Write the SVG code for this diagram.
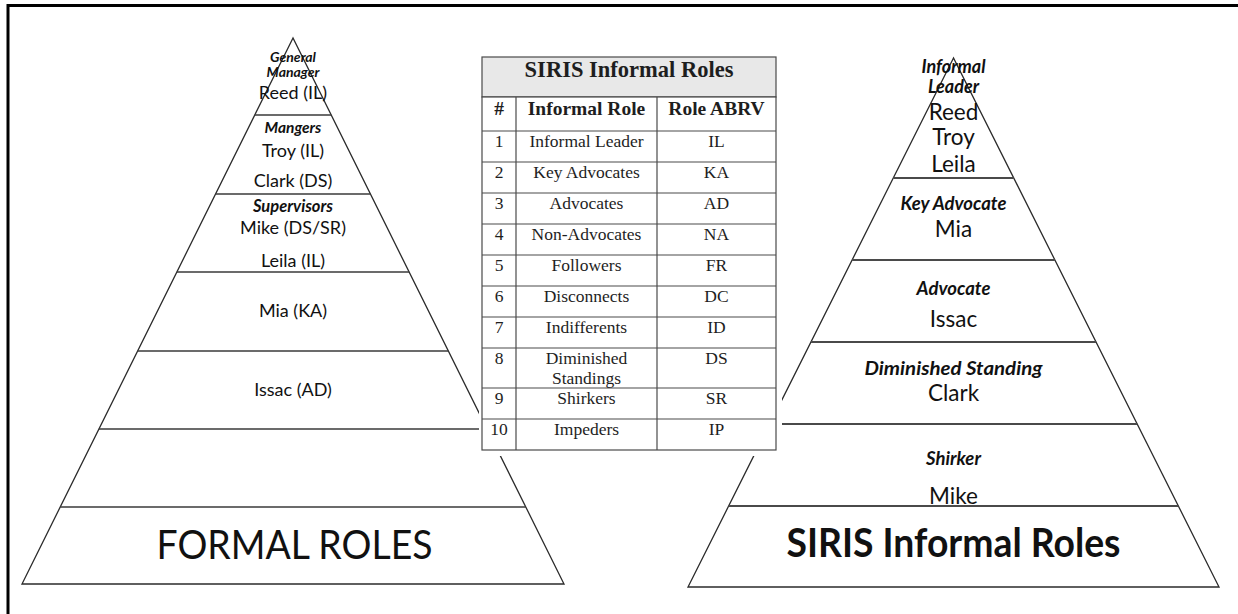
<svg xmlns="http://www.w3.org/2000/svg" width="1238" height="614" viewBox="0 0 1238 614">
  <style>
    .pyr { fill: #ffffff; stroke: #2b2b2b; stroke-width: 1.3; }
    .tier { stroke: #3a3a3a; stroke-width: 1.5; fill: none; }
    .tier2 { stroke: #4a4a4a; stroke-width: 2; fill: none; }
    .frame { stroke: #000000; stroke-width: 3; fill: none; }
    .sans { font-family: Lato, "Liberation Sans", sans-serif; fill: #111111; text-anchor: middle; }
    .name { font-size: 18px; }
    .name2 { font-size: 22.5px; }
    .role { font-weight: bold; font-style: italic; }
    .serif { font-family: "Liberation Serif", "Times New Roman", serif; fill: #1e1e1e; text-anchor: middle; }
    .body { font-size: 17.5px; }
    .hdr { font-weight: bold; font-size: 19.5px; }
    .ttl { font-weight: bold; font-size: 22.5px; }
    .cell { fill: #ffffff; stroke: #4a4a4a; stroke-width: 1.2; }
    .grid { stroke: #4a4a4a; stroke-width: 1.2; }
  </style>

  <rect x="0" y="0" width="1238" height="614" fill="#ffffff"/>

  <!-- page frame: top and left edges -->
  <path class="frame" d="M8 614 V5.5 H1238"/>

  <!-- formal hierarchy -->
  <g id="formal-pyramid">
    <polygon class="pyr" points="293,38 22,584 564,584"/>
    <line class="tier" x1="254.8" y1="115" x2="331.2" y2="115"/>
    <line class="tier" x1="215.6" y1="194" x2="370.4" y2="194"/>
    <line class="tier" x1="176.9" y1="272" x2="409.1" y2="272"/>
    <line class="tier" x1="137.7" y1="351" x2="448.3" y2="351"/>
    <line class="tier" x1="98.9" y1="429" x2="487.1" y2="429"/>
    <line class="tier" x1="60.2" y1="507" x2="525.8" y2="507"/>
    <text class="sans role" x="293" y="61.5" font-size="14">General</text>
    <text class="sans role" x="293" y="76.5" font-size="14">Manager</text>
    <text class="sans name" x="293" y="99">Reed (IL)</text>
    <text class="sans role" x="293" y="133" font-size="15.5">Mangers</text>
    <text class="sans name" x="293" y="157">Troy (IL)</text>
    <text class="sans name" x="293" y="187">Clark (DS)</text>
    <text class="sans role" x="293" y="212" font-size="16.5">Supervisors</text>
    <text class="sans name" x="293" y="234">Mike (DS/SR)</text>
    <text class="sans name" x="293" y="267">Leila (IL)</text>
    <text class="sans name" x="293" y="317">Mia (KA)</text>
    <text class="sans name" x="293" y="396">Issac (AD)</text>
    <text class="sans" x="294.5" y="559" font-size="40" textLength="276" lengthAdjust="spacingAndGlyphs">FORMAL ROLES</text>
  </g>

  <!-- informal hierarchy -->
  <g id="informal-pyramid">
    <polygon class="pyr" points="953.5,58 688,587 1219,587"/>
    <line class="tier2" x1="893.3" y1="178" x2="1013.7" y2="178"/>
    <line class="tier2" x1="852.1" y1="260" x2="1054.9" y2="260"/>
    <line class="tier2" x1="810.9" y1="342" x2="1096.1" y2="342"/>
    <line class="tier2" x1="769.8" y1="424" x2="1137.2" y2="424"/>
    <line class="tier2" x1="728.6" y1="506" x2="1178.4" y2="506"/>
    <text class="sans role" x="953.5" y="73" font-size="18">Informal</text>
    <text class="sans role" x="953.5" y="93" font-size="18">Leader</text>
    <text class="sans name2" x="953.5" y="119.5">Reed</text>
    <text class="sans name2" x="953.5" y="145">Troy</text>
    <text class="sans name2" x="953.5" y="172">Leila</text>
    <text class="sans role" x="953.5" y="210" font-size="18.5">Key Advocate</text>
    <text class="sans name2" x="953.5" y="237">Mia</text>
    <text class="sans role" x="953.5" y="295" font-size="18.5">Advocate</text>
    <text class="sans name2" x="953.5" y="327">Issac</text>
    <text class="sans role" x="953.5" y="375" font-size="19" textLength="178" lengthAdjust="spacingAndGlyphs">Diminished Standing</text>
    <text class="sans name2" x="953.5" y="401">Clark</text>
    <text class="sans role" x="953.5" y="465" font-size="18.5">Shirker</text>
    <text class="sans name2" x="953.5" y="504">Mike</text>
    <text class="sans" x="953.5" y="557" font-size="40" font-weight="bold" textLength="334" lengthAdjust="spacingAndGlyphs">SIRIS Informal Roles</text>
  </g>

  <!-- legend table on a white panel -->
  <g id="roles-table">
    <rect x="479" y="46" width="303" height="410" fill="#ffffff"/>
    <rect x="482" y="57" width="294" height="40" fill="#e8e8e8" stroke="#4a4a4a" stroke-width="1.2"/>
    <rect class="cell" x="482" y="97" width="294" height="353"/>
    <g class="grid">
      <line x1="516" y1="97" x2="516" y2="450"/>
      <line x1="657" y1="97" x2="657" y2="450"/>
      <line x1="482" y1="131" x2="776" y2="131"/>
      <line x1="482" y1="162" x2="776" y2="162"/>
      <line x1="482" y1="193" x2="776" y2="193"/>
      <line x1="482" y1="224" x2="776" y2="224"/>
      <line x1="482" y1="255" x2="776" y2="255"/>
      <line x1="482" y1="286" x2="776" y2="286"/>
      <line x1="482" y1="317" x2="776" y2="317"/>
      <line x1="482" y1="348" x2="776" y2="348"/>
      <line x1="482" y1="388" x2="776" y2="388"/>
      <line x1="482" y1="419" x2="776" y2="419"/>
    </g>
    <text class="serif ttl" x="629" y="77">SIRIS Informal Roles</text>
    <text class="serif hdr" x="499" y="115">#</text>
    <text class="serif hdr" x="586.5" y="115">Informal Role</text>
    <text class="serif hdr" x="716.5" y="115">Role ABRV</text>

    <g class="serif body">
      <text x="499" y="147">1</text>
      <text x="586.5" y="147">Informal Leader</text>
      <text x="716.5" y="147">IL</text>

      <text x="499" y="178">2</text>
      <text x="586.5" y="178">Key Advocates</text>
      <text x="716.5" y="178">KA</text>

      <text x="499" y="209">3</text>
      <text x="586.5" y="209">Advocates</text>
      <text x="716.5" y="209">AD</text>

      <text x="499" y="240">4</text>
      <text x="586.5" y="240">Non-Advocates</text>
      <text x="716.5" y="240">NA</text>

      <text x="499" y="271">5</text>
      <text x="586.5" y="271">Followers</text>
      <text x="716.5" y="271">FR</text>

      <text x="499" y="302">6</text>
      <text x="586.5" y="302">Disconnects</text>
      <text x="716.5" y="302">DC</text>

      <text x="499" y="333">7</text>
      <text x="586.5" y="333">Indifferents</text>
      <text x="716.5" y="333">ID</text>

      <text x="499" y="364">8</text>
      <text x="586.5" y="364">Diminished</text>
      <text x="586.5" y="384">Standings</text>
      <text x="716.5" y="364">DS</text>

      <text x="499" y="404">9</text>
      <text x="586.5" y="404">Shirkers</text>
      <text x="716.5" y="404">SR</text>

      <text x="499" y="435">10</text>
      <text x="586.5" y="435">Impeders</text>
      <text x="716.5" y="435">IP</text>
    </g>
  </g>
</svg>
